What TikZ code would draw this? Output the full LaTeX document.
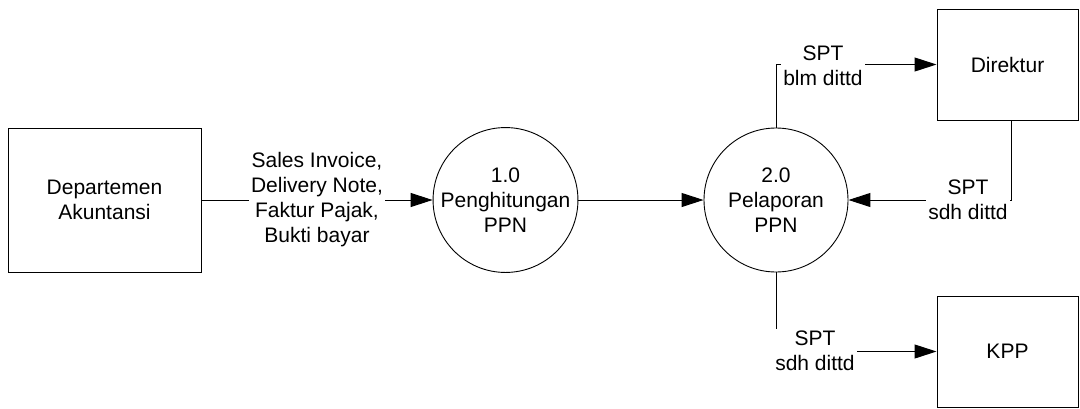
\documentclass[tikz,border=0pt]{standalone}
\usepackage{fontspec}
\setmainfont{Liberation Sans}
\usetikzlibrary{arrows.meta}
\begin{document}
\begin{tikzpicture}[x=1pt,y=-1pt,
  every node/.style={font=\fontsize{21}{25}\selectfont, align=center},
  entity/.style={draw, line width=1pt, rectangle, inner sep=0pt},
  proc/.style={draw, line width=0.9pt, circle, minimum size=144pt, inner sep=0pt},
  flow/.style={line width=1pt, -{Triangle[length=22pt,width=14pt]}},
  flowlabel/.style={fill=white, inner sep=2pt}]
\useasboundingbox (0,0) rectangle (1080,408);
\node[entity, minimum width=193pt, minimum height=144pt] (dept) at (104.5,200) {Departemen\\Akuntansi};
\node[proc] (p1) at (505.5,200) {1.0\\Penghitungan\\PPN};
\node[proc] (p2) at (776,200) {2.0\\Pelaporan\\PPN};
\node[entity, minimum width=141pt, minimum height=111pt] (dir) at (1007.5,64.5) {Direktur};
\node[entity, minimum width=141pt, minimum height=111pt] (kpp) at (1007.5,351.5) {KPP};
\draw[flow] (dept) -- (p1);
\draw[flow] (p1) -- (p2);
\draw[flow] (p2.north) |- (dir.west);
\draw[flow] ([xshift=4pt]dir.south) |- (p2.east);
\draw[flow] (p2.south) |- (kpp.west);
\node[flowlabel] (l1) at (317,200) {Sales Invoice,\\Delivery Note,\\Faktur Pajak,\\Bukti bayar};
\node[flowlabel] (l2) at (823,66) {SPT\\blm dittd};
\node[flowlabel] (l3) at (968,200) {SPT\\sdh dittd};
\node[flowlabel] (l4) at (815,351) {SPT\\sdh dittd};
\end{tikzpicture}
\end{document}
